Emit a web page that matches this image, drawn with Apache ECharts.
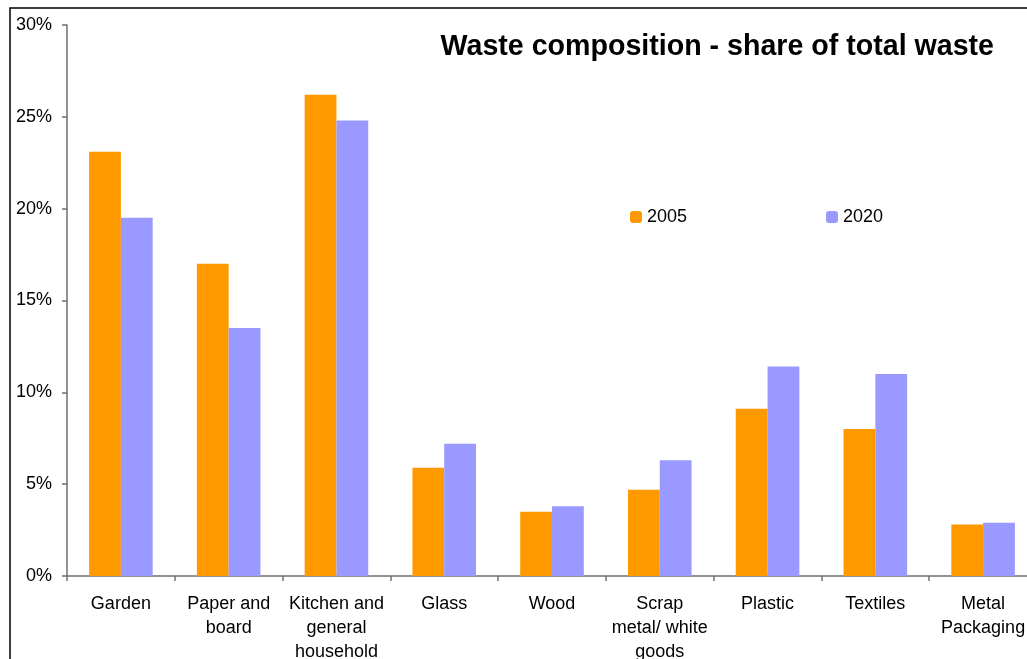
<!DOCTYPE html>
<html>
<head>
<meta charset="utf-8">
<script src="https://cdn.jsdelivr.net/npm/echarts@6/dist/echarts.min.js"></script>
<style>
  html, body { margin: 0; padding: 0; background: #fff; }
  #chart { width: 1027px; height: 659px; }
</style>
</head>
<body>
<div id="chart"></div>
<script>
var categories = ['Garden', 'Paper and\nboard', 'Kitchen and\ngeneral\nhousehold', 'Glass', 'Wood',
                  'Scrap\nmetal/ white\ngoods', 'Plastic', 'Textiles', 'Metal\nPackaging'];
var share2005 = [23.1, 17.0, 26.2, 5.9, 3.5, 4.7, 9.1, 8.0, 2.8];
var share2020 = [19.5, 13.5, 24.8, 7.2, 3.8, 6.3, 11.4, 11.0, 2.9];

var chart = echarts.init(document.getElementById('chart'));
var font = 'Liberation Sans, Arial, sans-serif';
var option = {
    animation: false,
    textStyle: { fontFamily: font },
    title: {
        text: 'Waste composition - share of total waste',
        right: 28,
        top: 28,
        textStyle: { fontSize: 28.6, fontWeight: 'bold', color: '#000', fontFamily: font }
    },
    legend: [{
        data: ['2005'],
        left: 625,
        top: 203,
        itemWidth: 12,
        itemHeight: 12,
        textStyle: { fontSize: 18, color: '#000', fontFamily: font }
    }, {
        data: ['2020'],
        left: 821,
        top: 203,
        itemWidth: 12,
        itemHeight: 12,
        textStyle: { fontSize: 18, color: '#000', fontFamily: font }
    }],
    grid: {
        left: 67,
        width: 970,
        top: 25,
        bottom: 83,
        containLabel: false,
        outerBoundsMode: 'none'
    },
    xAxis: {
        type: 'category',
        data: categories,
        axisLine: { lineStyle: { color: '#707070', width: 1.5 } },
        axisTick: { show: true, length: 5, lineStyle: { color: '#707070', width: 1.5 } },
        axisLabel: {
            interval: 0,
            fontSize: 18,
            color: '#000',
            lineHeight: 24,
            margin: 16,
            fontFamily: font
        }
    },
    yAxis: {
        type: 'value',
        min: 0,
        max: 30,
        interval: 5,
        splitLine: { show: false },
        axisLine: { show: true, lineStyle: { color: '#707070', width: 1.5 } },
        axisTick: { show: true, length: 5, lineStyle: { color: '#707070', width: 1.5 } },
        axisLabel: {
            formatter: '{value}%',
            fontSize: 18,
            color: '#000',
            margin: 15,
            fontFamily: font
        }
    },
    series: [{
        name: '2005',
        type: 'bar',
        data: share2005,
        barGap: '0%',
        barCategoryGap: '41%',
        itemStyle: { color: '#FF9900' }
    }, {
        name: '2020',
        type: 'bar',
        data: share2020,
        itemStyle: { color: '#9999FF' }
    }],
    graphic: [{
        type: 'rect',
        shape: { x: 10, y: 8, width: 1200, height: 800 },
        style: { fill: 'none', stroke: '#000', lineWidth: 1.5 },
        silent: true
    }]
};
chart.setOption(option);
</script>
</body>
</html>
